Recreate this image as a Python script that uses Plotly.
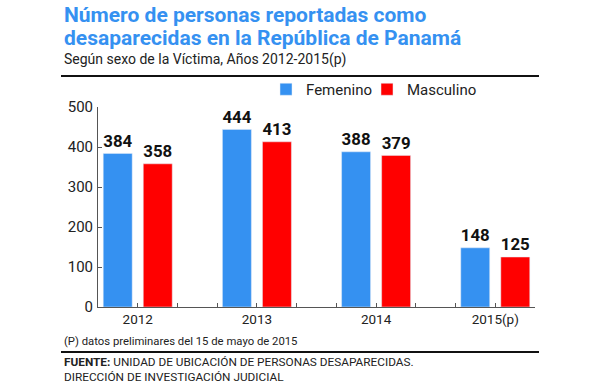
import plotly.graph_objects as go

years = ["2012", "2013", "2014", "2015(p)"]
femenino = [384, 444, 388, 148]
masculino = [358, 413, 379, 125]
y_ticks = [0, 100, 200, 300, 400, 500]

title_1 = "Número de personas reportadas como"
title_2 = "desaparecidas en la República de Panamá"
subtitle = "Según sexo de la Víctima, Años 2012-2015(p)"
note = "(P) datos preliminares del 15 de mayo de 2015"
source_1 = "<b>FUENTE:</b> UNIDAD DE UBICACIÓN DE PERSONAS DESAPARECIDAS."
source_2 = "DIRECCIÓN DE INVESTIGACIÓN JUDICIAL"

BLUE = "#3591F1"
RED = "#FF0000"
BODY = "Roboto, sans-serif"

# plot area in pixels
L, R, T, B = 98, 535, 107, 307
W, H = R - L, B - T
def px(x):
    return (x - L) / W
def py(y):
    return (B - y) / H

xpos = list(range(len(years)))
bw = 0.243
off = 0.168

fig = go.Figure()
fig.add_trace(go.Bar(
    x=xpos, y=femenino, name="Femenino", marker_color=BLUE,
    width=bw, offset=-off - bw / 2, legend="legend",
    text=femenino, texttemplate="<b>%{y}</b>", textposition="outside",
    textfont=dict(family=BODY, size=18, color="#111"), cliponaxis=False,
))
fig.add_trace(go.Bar(
    x=xpos, y=masculino, name="Masculino", marker_color=RED,
    width=bw, offset=off - bw / 2, legend="legend2",
    text=masculino, texttemplate="<b>%{y}</b>", textposition="outside",
    textfont=dict(family=BODY, size=18, color="#111"), cliponaxis=False,
))

leg_common = dict(orientation="h", xanchor="left", yanchor="middle",
                  font=dict(family=BODY, size=15, color="#222"),
                  itemwidth=30, bgcolor="rgba(0,0,0,0)")

fig.update_layout(
    width=600, height=384,
    margin=dict(l=L, r=600 - R, t=T, b=384 - B, pad=0),
    paper_bgcolor="white", plot_bgcolor="white",
    barmode="overlay",
    showlegend=True,
    legend=dict(x=px(266), y=py(89.5), **leg_common),
    legend2=dict(x=px(367), y=py(89.5), **leg_common),
    xaxis=dict(range=[-1 / 3, 3 + 1 / 3], tickvals=xpos, ticktext=years,
               showline=True, linecolor="#555", linewidth=1, showgrid=False, zeroline=False,
               ticks="inside", ticklen=4, tickcolor="#555",
               minor=dict(tick0=-1 / 3, dtick=1 / 3, ticks="inside", ticklen=4, tickcolor="#555"),
               tickfont=dict(family=BODY, size=13.5, color="#222"), fixedrange=True),
    yaxis=dict(range=[0, 500], tickvals=y_ticks, showline=True, linecolor="#555", linewidth=1,
               showgrid=False, zeroline=False, ticks="inside", ticklen=4, tickcolor="#555",
               tickfont=dict(family=BODY, size=15, color="#222"), ticklabelstandoff=1,
               fixedrange=True),
)

ann = [
    dict(text=f"<b>{title_1}</b>", x=px(62), y=py(15), yanchor="middle",
         font=dict(family=BODY, size=21, color=BLUE)),
    dict(text=f"<b>{title_2}</b>", x=px(62), y=py(38), yanchor="middle",
         font=dict(family=BODY, size=21, color=BLUE)),
    dict(text=subtitle, x=px(62), y=py(60), yanchor="middle",
         font=dict(family=BODY, size=14, color="#222")),
    dict(text=note, x=px(62), y=py(341), yanchor="middle",
         font=dict(family=BODY, size=11.3, color="#222")),
    dict(text=source_1 + "<br>" + source_2, x=px(62), y=py(353), yanchor="top",
         font=dict(family=BODY, size=11.8, color="#222")),
]
for a in ann:
    fig.add_annotation(xref="paper", yref="paper", xanchor="left", align="left",
                       showarrow=False, **a)

for yy in (76, 352):
    fig.add_shape(type="line", xref="paper", yref="paper", x0=px(61), x1=px(539),
                  y0=py(yy), y1=py(yy), line=dict(color="#111", width=2))

fig.write_html("out.html", config={"displayModeBar": False},
               post_script="document.body.style.margin='0';")
